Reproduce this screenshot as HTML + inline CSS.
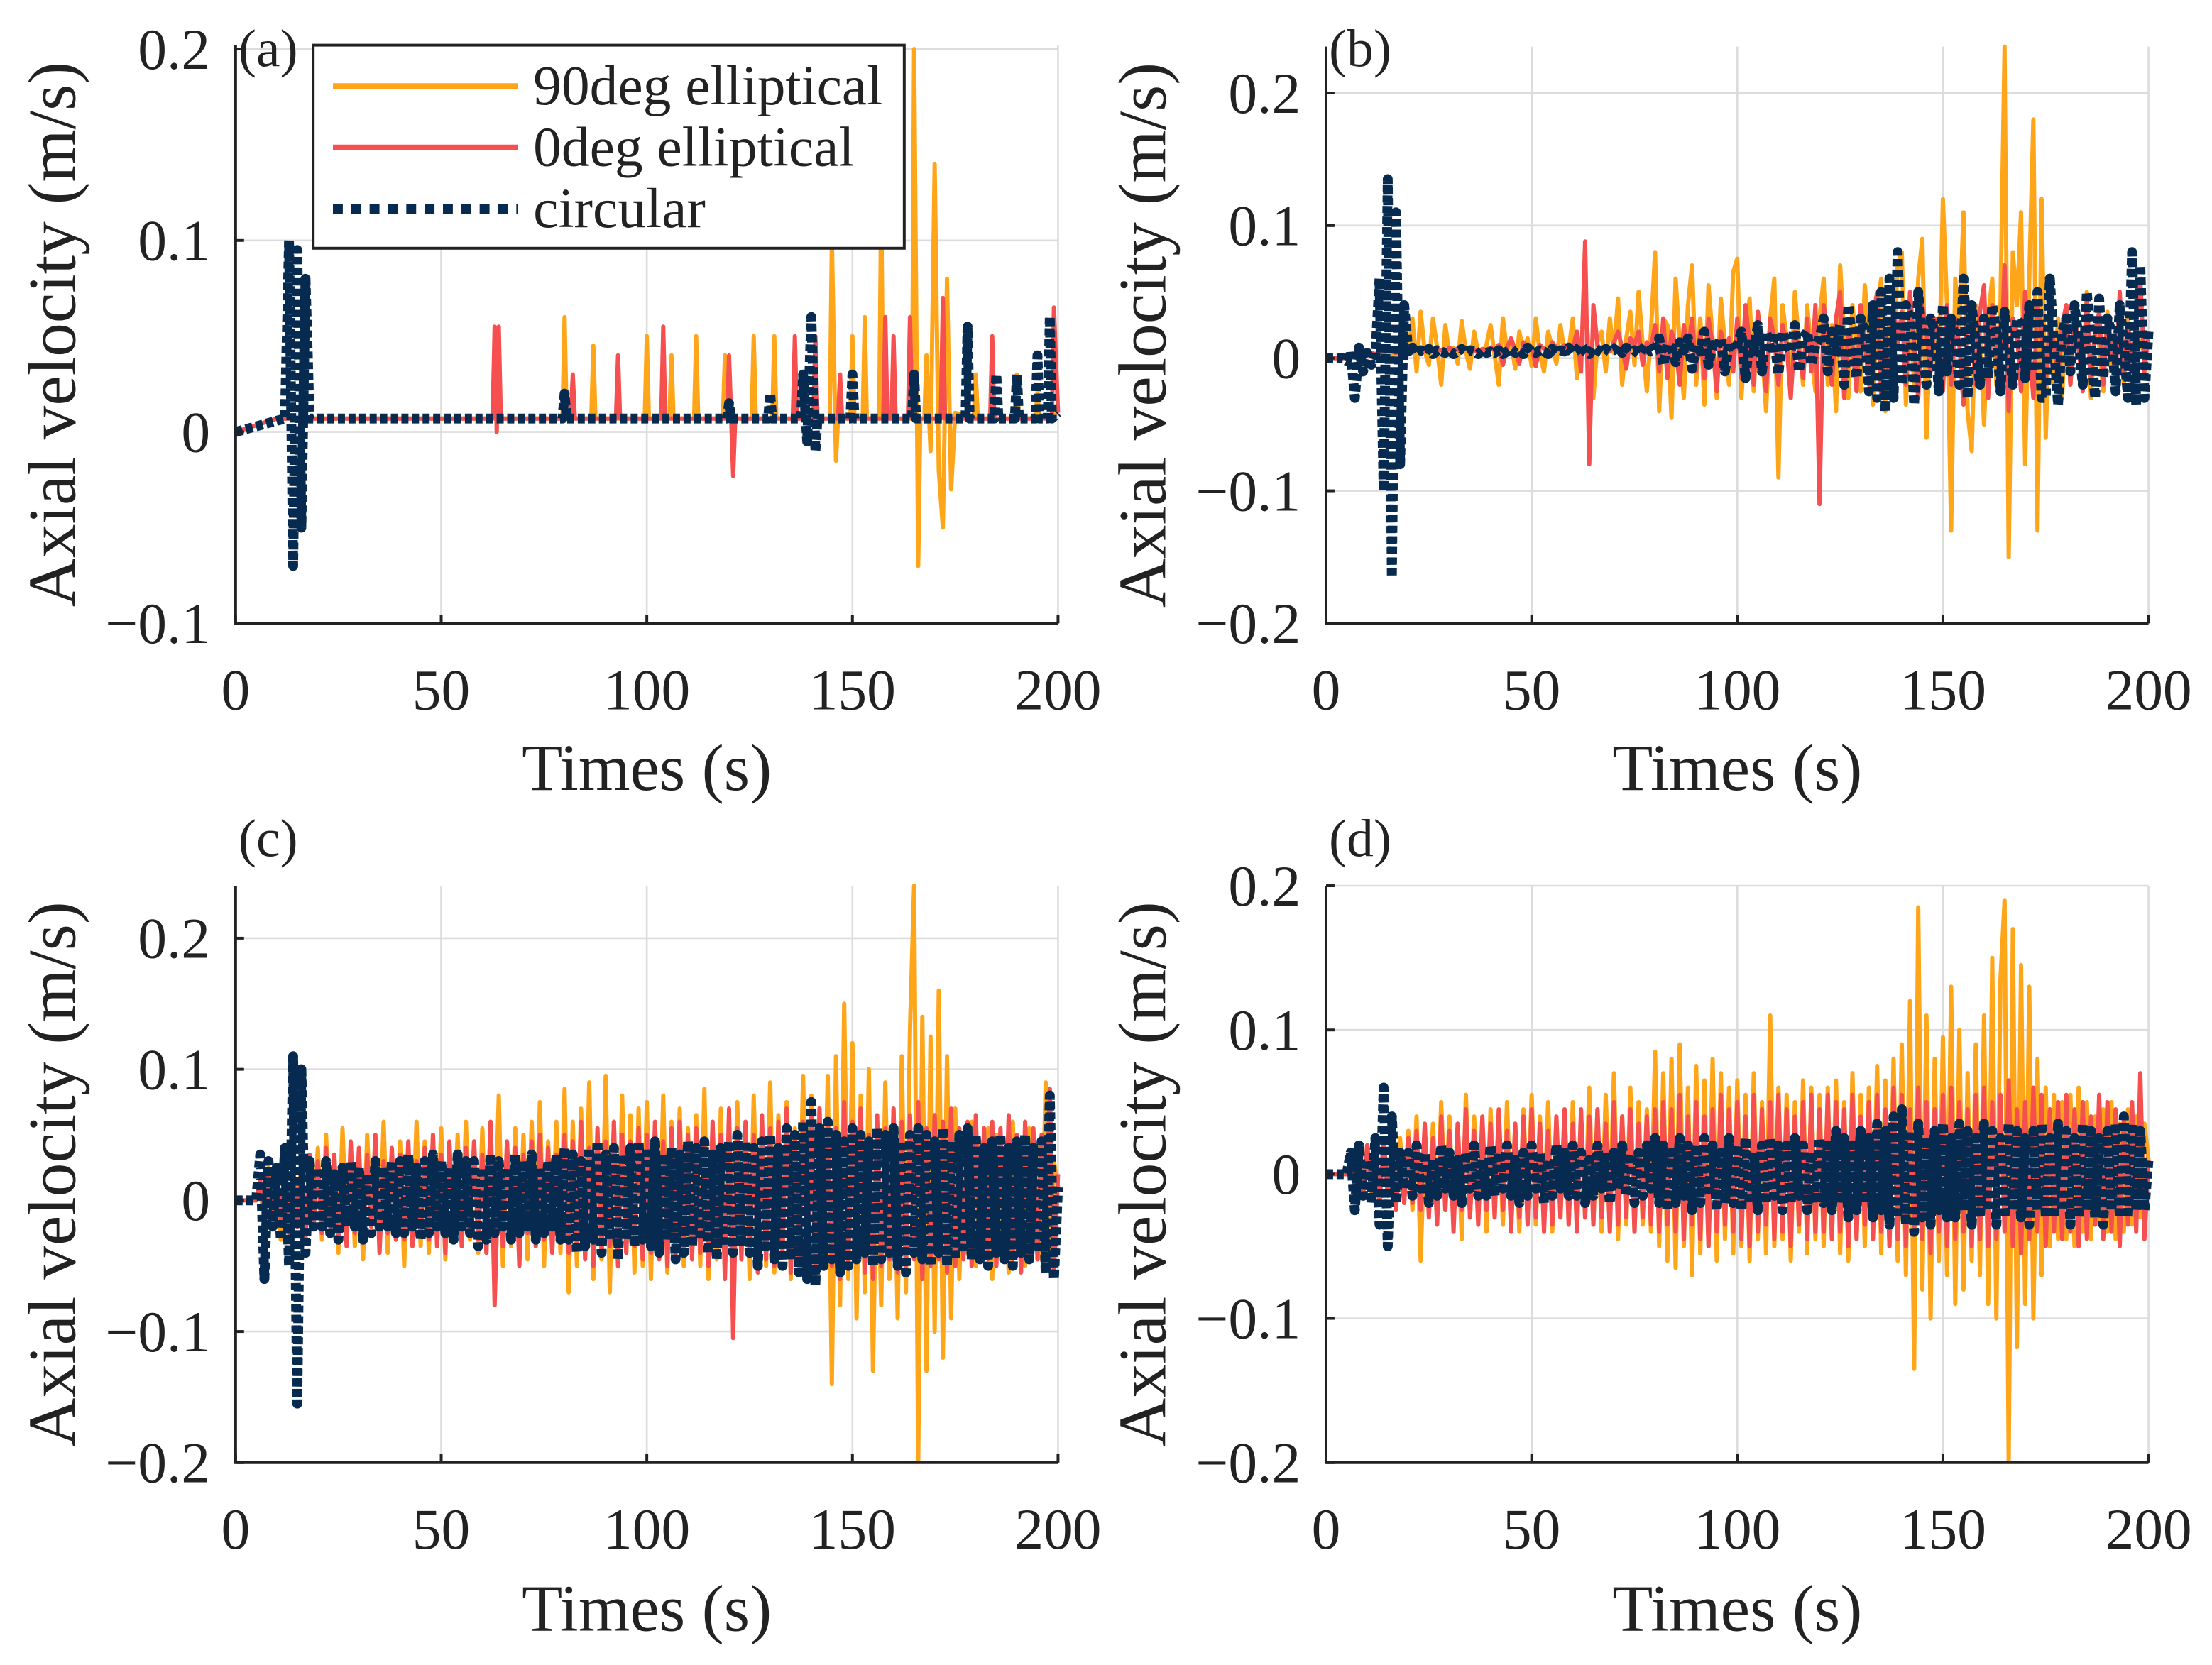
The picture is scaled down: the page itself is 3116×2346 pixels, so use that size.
<!DOCTYPE html>
<html><head><meta charset="utf-8"><style>
html,body{margin:0;padding:0;background:#fff}
svg{display:block}
text{font-family:"Liberation Serif",serif;fill:#222}
</style></head><body>
<svg id="fig" width="3116" height="2346" viewBox="0 0 1568 1180.5" xmlns="http://www.w3.org/2000/svg">
<g id="root"></g>
</svg>
<script>
// ---------- DATA (values in mm/s) ----------
const aOrangeT=[0,10,79.5,80,80.5,86.5,87,87.5,99.5,100,100.5,105.5,106,106.5,111.5,112,112.5,118.5,119,119.5,125.5,126,126.5,130.5,131,131.5,144.5,145,146,146.5,149.5,150,150.5,152.5,153,153.5,156.5,157,157.5,159.5,160,160.5,164.5,165,166,166.5,167.5,168,169,170,171,172,173,174,175,179.5,180,180.5,189.5,190,190.5,194.5,195,195.5,200];
const aOrangeV=[0,7,7,60,7,7,45,7,7,50,7,7,40,7,7,50,7,7,40,7,7,50,7,7,50,7,7,100,-15,7,7,50,7,7,60,7,7,120,7,7,40,7,7,200,-70,7,7,40,-10,140,-20,-50,80,-30,10,7,30,7,7,30,7,7,20,7,10];
const aRedT=[0,10,62.5,63,63.5,64,64.5,81.5,82,82.5,92.5,93,93.5,103.5,104,104.5,119.5,120,121,121.5,135.5,136,136.5,140.5,141,141.5,146.5,147,147.5,157.5,158,158.5,159.5,160,160.5,163.5,164,164.5,171.5,172,172.5,183.5,184,184.5,198.5,199,200];
const aRedV=[0,7,7,55,0,55,7,7,30,7,7,40,7,7,55,7,7,40,-23,7,7,50,7,7,50,7,7,30,7,7,60,7,7,50,7,7,60,7,7,70,7,7,50,7,7,65,10];
const aCircT=[0,12,13,14,15,16,17,18,79.5,80,80.5,119.5,120,120.5,129.5,130,130.5,137.5,138,139,140,141,141.5,149.5,150,150.5,164.5,165,165.5,177.5,178,178.5,184.5,185,185.5,189.5,190,190.5,194.5,195,195.5,197.5,198,198.5,200];
const aCircV=[0,7,100,-70,95,-50,80,7,7,20,7,7,15,7,7,20,7,7,30,-5,60,-10,7,7,30,7,7,30,7,7,55,7,7,30,7,7,30,7,7,40,7,7,60,7,10];
const bOrange=[0,0,0,0,0,0,1,2,1,3,2,1,3,2,4,3,2,4,3,5,
4,30,-10,35,5,-5,30,8,-20,25,3,8,-4,28,5,-8,20,4,3,10,
25,2,-20,30,5,12,-8,20,4,15,-6,30,3,-10,20,8,-4,25,3,6,
30,-15,10,40,5,-30,12,20,-10,30,4,45,-20,15,35,-5,50,10,-25,20,
80,-40,30,25,-45,60,10,-30,40,70,-20,30,-35,55,15,-30,45,10,-20,65,
75,-30,20,45,-25,35,10,-40,30,60,-90,40,15,-30,50,10,-20,40,5,-25,
30,60,-20,25,-40,70,15,-30,40,10,-25,55,20,-35,40,60,-40,30,10,70,
80,-35,40,-20,60,90,-60,30,10,-20,120,40,-130,60,20,110,-40,-70,40,20,
-50,30,60,-20,40,235,-150,80,40,110,-80,60,180,-130,120,-60,40,-20,30,-30,
40,-20,30,15,-15,50,-30,20,10,-25,35,-10,20,15,-20,30,-10,20,10,5,10];
const bRed=[0,0,0,0,0,0,2,3,4,3,5,4,3,5,4,6,5,4,6,5,
6,5,7,5,6,8,5,7,6,5,8,6,7,5,8,7,6,5,7,6,
8,6,10,-5,8,15,6,-4,12,6,8,-6,10,7,5,12,8,6,10,5,
7,20,-10,88,-80,40,10,6,8,5,12,20,8,-8,15,10,20,-5,12,8,
25,-10,30,-15,20,10,-20,25,5,30,-10,20,-15,30,10,-25,20,5,15,-10,
30,-15,40,10,-20,35,5,-25,30,15,-20,25,10,-30,20,5,-15,30,-10,40,
-110,40,20,-20,30,50,-30,20,10,-25,40,15,-20,30,50,-30,20,-15,40,10,
35,-20,50,10,-30,40,20,-10,30,15,-25,40,-20,30,10,-35,45,20,-20,35,
55,-30,40,10,-20,70,-40,30,20,-25,50,10,-30,40,20,-20,30,10,-15,25,
40,-20,30,10,-25,45,-15,20,35,-20,30,10,-15,50,-10,25,-20,30,60,-10,20];
const bCirc=[0,0,0,0,0,-2,5,-30,8,-10,4,-5,3,60,-100,135,-165,110,-80,40,
5,8,3,6,4,7,3,6,5,4,6,3,5,7,4,6,5,3,6,4,
5,4,6,3,5,7,4,6,3,8,5,4,6,5,3,7,4,6,5,8,
4,6,10,5,3,8,6,4,7,5,6,10,4,8,5,6,3,7,10,5,
6,15,-5,10,8,-3,12,6,15,-8,10,5,20,-5,10,8,15,-10,12,6,
10,20,-15,15,5,25,-10,20,8,15,-12,20,10,5,25,-10,15,20,-5,10,
15,30,-10,20,5,25,-20,40,10,-15,30,20,-25,40,-30,50,-40,60,-30,80,
-20,40,30,-35,50,10,-20,30,20,-25,40,-10,30,15,-20,60,-30,40,10,-20,
30,-15,40,20,-25,35,10,-20,30,25,-15,40,-10,50,-30,-30,60,10,-35,20,
30,-10,40,15,-20,50,10,-30,45,-15,30,20,-25,40,10,-30,80,-35,70,-30,20];
const cOrange=[0,0,0,0,0,0,10,-20,25,-15,20,-30,30,-20,25,-10,30,-25,20,-15,
40,-30,50,-20,35,-40,55,-25,40,-35,30,-45,50,-20,40,-30,60,-40,35,-25,
45,-50,40,-30,60,-35,45,-40,50,-30,55,-45,40,-25,50,-35,60,-30,45,-40,
55,-40,60,-30,80,-50,40,-35,55,-40,50,-45,60,-30,75,-50,45,-35,60,-40,
85,-70,60,-50,70,-40,90,-60,50,-45,95,-70,60,-50,80,-40,65,-55,70,-50,
75,-60,50,-40,80,-55,60,-45,70,-50,55,-40,65,-50,85,-60,50,-45,70,-55,
60,-50,75,-40,55,-60,80,-45,60,-50,90,-55,65,-40,75,-60,55,-50,95,-45,
80,-60,70,-50,95,-140,110,-80,150,-60,120,-90,80,-70,100,-130,60,-80,90,-60,
70,-90,110,-70,130,240,-200,140,-130,125,-100,160,-120,110,-90,70,-60,50,-40,60,
-50,45,-40,55,-60,50,-45,40,-55,60,-40,45,-50,55,-35,40,-45,90,-50,30,10];
const cRed=[0,0,0,0,0,0,15,-15,20,-20,25,-15,30,-25,20,-20,25,-30,35,-20,
30,-25,40,-20,35,-30,25,-35,45,-25,40,-30,35,-20,50,-40,30,-25,40,-30,
35,-30,45,-35,30,-25,40,-30,50,-35,35,-40,45,-30,30,-35,40,-25,45,-30,
35,-40,60,-80,30,-35,45,-30,40,-50,35,-25,45,-35,50,-30,40,-40,35,-30,
50,-40,45,-35,60,-45,40,-50,55,-40,45,-35,60,-50,50,-40,45,-35,55,-45,
50,-40,60,-45,45,-50,55,-40,60,-35,50,-45,55,-40,45,-50,60,-35,50,-60,
70,-105,55,-45,60,-40,50,-55,65,-45,55,-50,60,-40,70,-55,50,-45,60,-50,
65,-55,70,-45,60,-50,55,-60,75,-50,60,-45,70,-55,50,-60,65,-50,55,-45,
70,-55,60,-50,65,-45,75,-60,55,-50,65,-45,60,-55,70,-50,55,-45,60,-50,
65,-40,55,-45,60,-50,55,-40,65,-45,50,-55,60,-40,55,-45,50,-40,85,-55,20];
const cCirc=[0,0,0,0,0,0,35,-60,30,-20,25,-30,40,-50,110,-155,100,-40,30,-20,
25,-20,30,-25,20,-30,25,-20,30,-20,25,-30,20,-25,30,-20,25,-20,30,-25,
30,-25,35,-20,25,-30,30,-25,35,-20,30,-25,25,-30,35,-20,30,-25,30,-35,
25,-30,35,-25,30,-20,25,-30,35,-25,30,-20,35,-30,25,-25,30,-20,35,-30,
40,-30,35,-40,30,-35,40,-30,45,-40,35,-30,40,-45,35,-30,40,-35,45,-30,
40,-35,45,-40,35,-30,40,-45,35,-40,45,-35,40,-30,45,-40,35,-45,40,-35,
45,-40,50,-35,45,-40,40,-50,45,-35,50,-45,40,-50,55,-45,50,-55,60,-60,
75,-65,55,-50,60,-45,50,-55,45,-50,55,-45,50,-40,45,-50,55,-45,50,-40,
55,-50,45,-55,50,-40,55,-45,50,-50,45,-40,55,-50,45,-45,50,-40,55,-45,
50,-45,40,-50,45,-40,50,-45,40,-50,45,-40,50,-45,40,-35,45,-55,80,-60,10];
const dOrange=[0,0,0,0,0,0,5,-10,15,-10,20,-15,10,-20,25,-15,20,-10,25,-20,
30,-25,40,-60,30,-20,35,-30,50,-25,40,-35,30,-45,55,-30,40,-25,35,-40,
45,-30,40,-35,50,-30,35,-40,45,-25,55,-35,40,-30,50,-40,35,-30,45,-35,
50,-40,40,-30,60,-35,45,-40,55,-30,70,-45,40,-35,60,-40,50,-35,45,-40,
85,-50,70,-60,80,-65,90,-50,60,-70,75,-55,65,-50,80,-60,70,-45,60,-55,
65,-50,55,-60,70,-45,50,-55,110,-50,60,-45,55,-60,50,-40,65,-55,60,-45,
55,-50,60,-45,65,-55,50,-60,70,-45,55,-50,60,-40,75,-55,65,-50,80,-60,
90,-70,120,-135,185,-80,110,-100,80,-60,95,-70,130,-90,100,-80,70,-60,90,-70,
110,-90,150,-100,135,190,-200,170,-120,145,-90,130,-100,80,-70,60,-50,55,-45,50,
-45,55,-50,60,-40,50,-45,40,-35,45,-40,50,-45,35,-40,45,-35,40,-30,35,10];
const dRed=[0,0,0,0,0,0,10,-10,15,-15,20,-10,15,-20,25,-15,20,-25,15,-20,
25,-20,30,-25,35,-30,25,-35,40,-25,30,-40,35,-25,45,-30,30,-35,40,-25,
35,-30,45,-25,30,-40,35,-30,40,-35,45,-30,35,-40,30,-35,40,-30,45,-35,
35,-40,45,-30,40,-35,45,-30,35,-40,50,-35,40,-30,45,-40,35,-30,40,-35,
45,-40,50,-35,45,-40,55,-45,40,-35,50,-45,40,-50,45,-40,55,-35,45,-40,
50,-45,40,-50,55,-40,45,-35,50,-45,55,-40,45,-50,40,-35,50,-45,55,-40,
45,-40,55,-45,50,-40,45,-50,55,-45,40,-35,50,-45,55,-40,45,-50,60,-45,
55,-50,45,-40,60,-45,50,-55,45,-40,55,-50,60,-45,50,-40,45,-50,55,-45,
60,-50,50,-45,55,-40,65,-50,45,-55,50,-45,60,-40,55,-50,45,-40,50,-45,
55,-40,45,-50,50,-45,40,-35,55,-45,50,-40,45,-50,40,-35,50,-40,70,-45,10];
const dCirc=[0,0,0,0,0,0,15,-25,20,-15,10,-20,25,-35,60,-50,40,-20,15,-10,
15,-15,20,-10,15,-20,10,-15,20,-10,15,-15,10,-20,15,-10,20,-15,10,-15,
20,-15,15,-10,20,-15,10,-20,15,-15,20,-10,15,-20,10,-15,20,-10,15,-15,
20,-15,15,-20,10,-15,20,-10,15,-20,15,-10,20,-15,10,-20,15,-15,20,-10,
25,-20,20,-25,15,-20,25,-15,20,-25,20,-20,25,-15,20,-25,15,-20,25,-20,
20,-25,25,-20,15,-25,20,-20,25,-15,20,-25,20,-20,25,-15,20,-25,15,-20,
25,-20,20,-25,30,-20,25,-30,20,-25,30,-20,25,-30,35,-25,30,-35,40,-30,
45,-35,30,-40,35,-30,25,-35,30,-25,35,-30,25,-30,35,-25,30,-35,25,-30,
35,-25,30,-35,25,-30,35,-25,30,-30,25,-35,30,-25,35,-30,25,-30,35,-25,
30,-35,25,-30,35,-25,30,-30,25,-35,30,-25,35,-30,40,-30,35,-25,30,-25,10];
const xTicks=[0,50,100,150,200];
const yTicksA=[-0.1,0,0.1,0.2];
const yTicksBC=[-0.2,-0.1,0,0.1,0.2];
const yTickLabelsA=["\u22120.1","0","0.1","0.2"];
const yTickLabelsBC=["\u22120.2","\u22120.1","0","0.1","0.2"];
const seriesNames=["90deg elliptical","0deg elliptical","circular"];

// ---------- RENDER ----------
const NS="http://www.w3.org/2000/svg";
const root=document.getElementById('root');
function mk(tag,attrs,parent){const e=document.createElementNS(NS,tag);for(const k in attrs)e.setAttribute(k,attrs[k]);(parent||root).appendChild(e);return e;}
const COL=["#FFA51A","#F5504F","#062A50"];
const panels=[
 {id:'a',x0:167,x1:750,yt:32,yb:442,ymin:-0.1,ymax:0.202,yt_:yTicksA,yl:yTickLabelsA,
  series:[[aOrangeT,aOrangeV],[aRedT,aRedV],[aCircT,aCircV]],labY:47,xlY:503,xtY:560},
 {id:'b',x0:940,x1:1523,yt:33,yb:442,ymin:-0.2,ymax:0.235,yt_:yTicksBC,yl:yTickLabelsBC,
  series:[bOrange,bRed,bCirc],labY:47,xlY:503,xtY:560},
 {id:'c',x0:167,x1:750,yt:628,yb:1037,ymin:-0.2,ymax:0.24,yt_:yTicksBC,yl:yTickLabelsBC,
  series:[cOrange,cRed,cCirc],labY:607,xlY:1098,xtY:1156},
 {id:'d',x0:940,x1:1523,yt:628,yb:1037,ymin:-0.2,ymax:0.2,yt_:yTicksBC,yl:yTickLabelsBC,
  series:[dOrange,dRed,dCirc],labY:607,xlY:1098,xtY:1156}
];
panels.forEach(p=>{
  const g=mk('g',{});
  
  
  const X=t=>p.x0+(t-0)/(200-0)*(p.x1-p.x0);
  const Y=v=>p.yb-(v-p.ymin)/(p.ymax-p.ymin)*(p.yb-p.yt);
  xTicks.forEach(t=>{const l=mk('line',{x1:X(t),x2:X(t),y1:p.yt,y2:p.yb,stroke:'#dcdcdc','stroke-width':1.3},g);
    });
  p.yt_.forEach(v=>{const l=mk('line',{x1:p.x0,x2:p.x1,y1:Y(v),y2:Y(v),stroke:'#dcdcdc','stroke-width':1.3},g);
    });
  const cp=mk('clipPath',{id:'clip'+p.id},g);
  mk('rect',{x:p.x0,y:p.yt-2,width:p.x1-p.x0+4,height:p.yb-p.yt+2},cp);
  const sg=mk('g',{'clip-path':'url(#clip'+p.id+')'},g);
  p.series.forEach((s,i)=>{
    let pts;
    if(Array.isArray(s[0])){pts=s[0].map((t,k)=>X(t).toFixed(2)+','+Y(s[1][k]/1000).toFixed(2));}
    else{pts=s.map((v,k)=>X(k).toFixed(2)+','+Y(v/1000).toFixed(2));}
    const attrs={points:pts.join(' '),fill:'none',stroke:COL[i],'stroke-linejoin':'round'};
    if(i<2){attrs['stroke-width']=3;}else{attrs['stroke-width']=7;attrs['stroke-dasharray']='5 2.5';}
    const pl=mk('polyline',attrs,sg);
    
    
  });
  const ax=mk('path',{d:`M${p.x0},${p.yt} V${p.yb} H${p.x1}`,fill:'none',stroke:'#222','stroke-width':2},g);
  
  xTicks.forEach(t=>{mk('line',{x1:X(t),x2:X(t),y1:p.yb,y2:p.yb-6,stroke:'#222','stroke-width':2},g);
    const tx=mk('text',{x:X(t),y:p.xlY,'font-size':41,'text-anchor':'middle'},g);tx.textContent=t;
    });
  p.yt_.forEach((v,k)=>{mk('line',{x1:p.x0,x2:p.x0+6,y1:Y(v),y2:Y(v),stroke:'#222','stroke-width':2},g);
    const tx=mk('text',{x:p.x0-18,y:Y(v)+14,'font-size':41,'text-anchor':'end'},g);tx.textContent=p.yl[k];
    });
  const xl=mk('text',{x:(p.x0+p.x1)/2,y:p.xtY,'font-size':47,'text-anchor':'middle'},g);xl.textContent='Times (s)';
  
  const cy=(p.yt+p.yb)/2, cx=p.x0-114;
  const yl=mk('text',{x:cx,y:cy,'font-size':48,'text-anchor':'middle',transform:`rotate(-90 ${cx} ${cy})`},g);yl.textContent='Axial velocity (m/s)';
  
  const lb=mk('text',{x:p.x0+2,y:p.labY,'font-size':38},g);lb.textContent='('+p.id+')';
  
});
const lg=mk('g',{});


mk('rect',{x:222,y:32,width:419,height:144,fill:'#fff',stroke:'#222','stroke-width':2},lg);
seriesNames.forEach((n,i)=>{
  const y=61+i*43.5;
  const a={x1:236,x2:367,y1:y,y2:y,stroke:COL[i]};
  if(i<2)a['stroke-width']=4;else{a['stroke-width']=7;a['stroke-dasharray']='7 6';}
  const l=mk('line',a,lg);
  
  const t=mk('text',{x:378,y:y+13,'font-size':40},lg);t.textContent=n;
  
});
</script>
</body></html>
